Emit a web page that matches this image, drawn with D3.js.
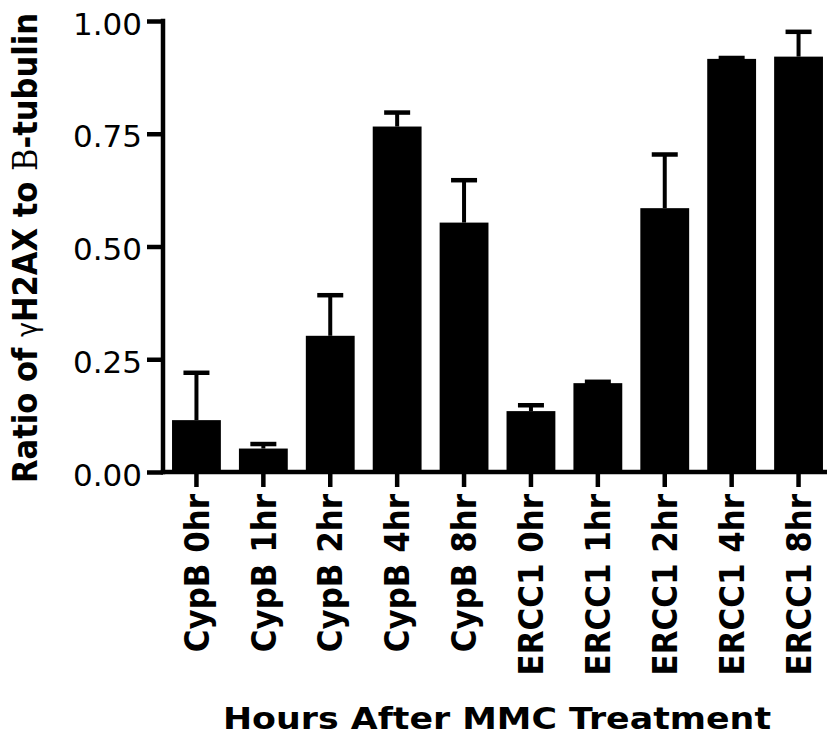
<!DOCTYPE html>
<html>
<head>
<meta charset="utf-8">
<script src="https://cdn.jsdelivr.net/npm/d3@7"></script>
<style>
  html, body { margin: 0; padding: 0; background: #fff; }
  svg { display: block; }
</style>
</head>
<body>
<svg id="chart" width="827" height="746"></svg>
<script>
const categories = ["CypB 0hr", "CypB 1hr", "CypB 2hr", "CypB 4hr", "CypB 8hr",
                    "ERCC1 0hr", "ERCC1 1hr", "ERCC1 2hr", "ERCC1 4hr", "ERCC1 8hr"];
const means  = [0.115, 0.052, 0.302, 0.766, 0.553, 0.135, 0.197, 0.585, 0.916, 0.921];
const errors = [0.105, 0.010, 0.090, 0.031, 0.094, 0.013, 0.003, 0.119, 0.002, 0.055];
const yTicks = [0, 0.25, 0.5, 0.75, 1.0];
const yTickLabels = ["0.00", "0.25", "0.50", "0.75", "1.00"];

const svg = d3.select("#chart");
const axisX = 163, axisY = 472, topY = 21;

const x = d3.scaleBand().domain(categories).range([axisX, 832])
  .paddingInner(0.27).paddingOuter(0.135);
const y = d3.scaleLinear().domain([0, 1]).range([axisY, topY]);

const SW = 4.5;

// bars
svg.append("g").selectAll("rect").data(categories).join("rect")
  .attr("x", d => x(d)).attr("width", x.bandwidth())
  .attr("y", (d, i) => y(means[i]))
  .attr("height", (d, i) => y(0) - y(means[i]))
  .attr("fill", "#000");

// error bars
const eb = svg.append("g").attr("stroke", "#000").attr("stroke-width", SW);
categories.forEach((d, i) => {
  const cx = x(d) + x.bandwidth() / 2;
  const top = y(means[i] + errors[i]);
  eb.append("line").attr("x1", cx).attr("x2", cx).attr("y1", y(means[i])).attr("y2", top).attr("stroke-width", 4);
  eb.append("line").attr("x1", cx - 13).attr("x2", cx + 13).attr("y1", top).attr("y2", top);
});

// y axis
const yAxis = d3.axisLeft(y).tickValues(yTicks)
  .tickFormat((d, i) => yTickLabels[i]).tickSize(16).tickPadding(5);
const gy = svg.append("g").attr("transform", `translate(${axisX},0)`).call(yAxis);
gy.select(".domain").remove();
gy.selectAll(".tick line").attr("stroke", "#000").attr("stroke-width", SW);
gy.selectAll(".tick text")
  .attr("font-family", "DejaVu Sans").attr("font-size", 31)
  .attr("fill", "#000").attr("dy", "0.42em");
gy.append("line").attr("x1", 0).attr("x2", 0).attr("y1", topY - SW/2).attr("y2", axisY + SW/2)
  .attr("stroke", "#000").attr("stroke-width", SW);

// x axis
const xAxis = d3.axisBottom(x).tickSize(15).tickFormat("");
const gx = svg.append("g").attr("transform", `translate(0,${axisY})`).call(xAxis);
gx.select(".domain").remove();
gx.selectAll(".tick line").attr("stroke", "#000").attr("stroke-width", SW);
gx.append("line").attr("x1", axisX - SW/2).attr("x2", 827).attr("y1", 0).attr("y2", 0)
  .attr("stroke", "#000").attr("stroke-width", SW);

// x tick labels (rotated)
svg.append("g").selectAll("text").data(categories).join("text")
  .attr("transform", d => `translate(${x(d) + x.bandwidth()/2},494) rotate(-90) scale(0.91,1)`)
  .attr("text-anchor", "end").attr("dy", "0.36em")
  .attr("font-family", "DejaVu Sans").attr("font-weight", "bold").attr("font-size", 34)
  .attr("fill", "#000")
  .text(d => d);

// y title
const yt = svg.append("text")
  .attr("transform", "translate(36.7,248) rotate(-90) scale(0.9,1)")
  .attr("text-anchor", "middle")
  .attr("font-family", "DejaVu Sans").attr("font-weight", "bold").attr("font-size", 34)
  .attr("fill", "#000");
yt.append("tspan").text("Ratio of ");
yt.append("tspan").attr("font-weight", "normal").attr("font-size", 28).text("γ");
yt.append("tspan").text("H2AX to ");
yt.append("tspan").attr("font-family", "DejaVu Serif").attr("font-weight", "normal").text("B");
yt.append("tspan").text("-tubulin");

// x title
svg.append("text")
  .attr("x", 497).attr("y", 729)
  .attr("text-anchor", "middle")
  .attr("font-family", "DejaVu Sans").attr("font-weight", "bold").attr("font-size", 30)
  .attr("textLength", 548).attr("lengthAdjust", "spacingAndGlyphs")
  .attr("fill", "#000")
  .text("Hours After MMC Treatment");
</script>
</body>
</html>
